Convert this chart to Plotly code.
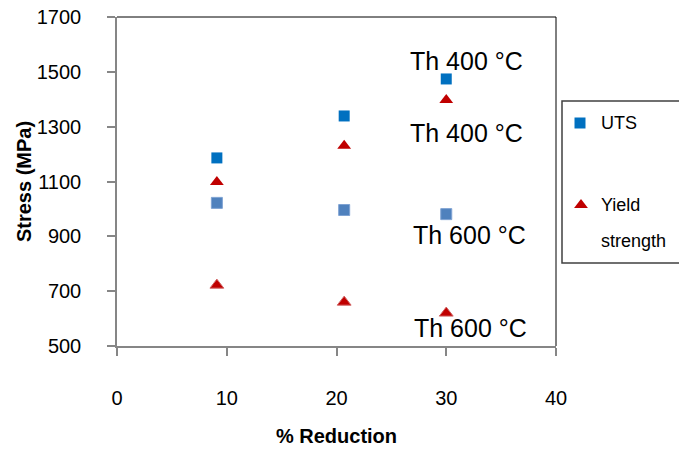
import plotly.graph_objects as go

# Data
reduction = [9.1, 20.7, 30.0]
uts_400 = [1186, 1339, 1474]
uts_600 = [1022, 996, 981]
ys_400 = [1098, 1230, 1397]
ys_600 = [722, 660, 620]

x_ticks = [0, 10, 20, 30, 40]
y_ticks = [500, 700, 900, 1100, 1300, 1500, 1700]

labels = [
    ("Th 400 °C", 31.8, 1540),
    ("Th 400 °C", 31.8, 1277),
    ("Th 600 °C", 32.1, 905),
    ("Th 600 °C", 32.2, 566),
]

OFF = 8  # page body margin
W, H = 687 - OFF, 450 - OFF
ml, mt = 117 - OFF, 17 - OFF
plot_w, plot_h = 439, 329
mb = H - mt - plot_h
mr = 3
pw = W - ml - mr

fig = go.Figure()
fig.add_trace(go.Scatter(x=reduction, y=uts_400, mode="markers", name="UTS 400",
                         marker=dict(symbol="square", size=11, color="#0070C0"), showlegend=False))
fig.add_trace(go.Scatter(x=reduction, y=uts_600, mode="markers", name="UTS 600",
                         marker=dict(symbol="square", size=11, color="#4F81BD",
                                     line=dict(color="#7FA3D3", width=1)), showlegend=False))
fig.add_trace(go.Scatter(x=reduction, y=ys_400, mode="markers", name="Yield 400",
                         marker=dict(symbol="triangle-up", size=12, color="#C00000"), showlegend=False))
fig.add_trace(go.Scatter(x=reduction, y=ys_600, mode="markers", name="Yield 600",
                         marker=dict(symbol="triangle-up", size=12, color="#C00000",
                                     line=dict(color="#D06060", width=1)), showlegend=False))

# legend markers on overlay axis (reference-pixel coordinates)
fig.add_trace(go.Scatter(x=[580], y=[123], mode="markers", xaxis="x2", yaxis="y2",
                         marker=dict(symbol="square", size=11, color="#0070C0"), showlegend=False,
                         hoverinfo="skip"))
fig.add_trace(go.Scatter(x=[581], y=[205], mode="markers", xaxis="x2", yaxis="y2",
                         marker=dict(symbol="triangle-up", size=12, color="#C00000"), showlegend=False,
                         hoverinfo="skip"))

FONT = "Arial, Liberation Sans, sans-serif"
tickfont = dict(family=FONT, size=20, color="#000000")
titlefont = dict(family=FONT, size=20, color="#000000")

annotations = []
for t, x, y in labels:
    annotations.append(dict(text=t, x=x, y=y, xref="x", yref="y", showarrow=False,
                            font=dict(family=FONT, size=25, color="#000000")))
legfont = dict(family=FONT, size=18, color="#000000")
annotations += [
    dict(text="UTS", x=599, y=123, xref="x2", yref="y2", xanchor="left", showarrow=False, font=legfont),
    dict(text="Yield", x=599, y=205, xref="x2", yref="y2", xanchor="left", showarrow=False, font=legfont),
    dict(text="strength", x=599, y=241, xref="x2", yref="y2", xanchor="left", showarrow=False, font=legfont),
]

shapes = [
    dict(type="line", xref="x domain", yref="y domain", x0=0, x1=1, y0=1, y1=1,
         line=dict(color="#000000", width=1)),
    dict(type="line", xref="x domain", yref="y domain", x0=1, x1=1, y0=0, y1=1,
         line=dict(color="#000000", width=1)),
    dict(type="rect", xref="x2", yref="y2", x0=562, x1=682, y0=101, y1=263,
         line=dict(color="#404040", width=1.5), fillcolor="rgba(0,0,0,0)"),
]

x2_left_ref = 560
fig.update_layout(
    width=W, height=H,
    margin=dict(l=ml, r=mr, t=mt, b=mb, autoexpand=False),
    plot_bgcolor="white", paper_bgcolor="white",
    showlegend=False,
    xaxis=dict(domain=[0, plot_w / pw], range=[x_ticks[0], x_ticks[-1]], tickvals=x_ticks,
               showgrid=False, zeroline=False, showline=True, linecolor="#868686", linewidth=1.5,
               ticks="outside", ticklen=8, tickcolor="#868686", tickwidth=1.5,
               tickfont=tickfont, ticklabelstandoff=25, automargin=False,
               ticklabeloverflow="allow",
               title=dict(text="<b>% Reduction</b>", font=titlefont, standoff=21)),
    yaxis=dict(range=[y_ticks[0], y_ticks[-1]], tickvals=y_ticks,
               showgrid=False, zeroline=False, showline=True, linecolor="#868686", linewidth=1.5,
               ticks="outside", ticklen=8, tickcolor="#868686", tickwidth=1.5,
               tickfont=tickfont, ticklabelstandoff=22, automargin=False,
               ticklabeloverflow="allow",
               title=dict(text="<b>Stress (MPa)</b>", font=titlefont, standoff=0)),
    xaxis2=dict(domain=[(x2_left_ref - OFF - ml) / pw, 1.0],
                range=[x2_left_ref, W - mr + OFF], visible=False,
                anchor="y2", fixedrange=True),
    yaxis2=dict(domain=[0, 1], range=[mt + plot_h + OFF, mt + OFF], visible=False,
                anchor="x2", fixedrange=True),
    annotations=annotations,
    shapes=shapes,
)

fig.write_html("out.html")
